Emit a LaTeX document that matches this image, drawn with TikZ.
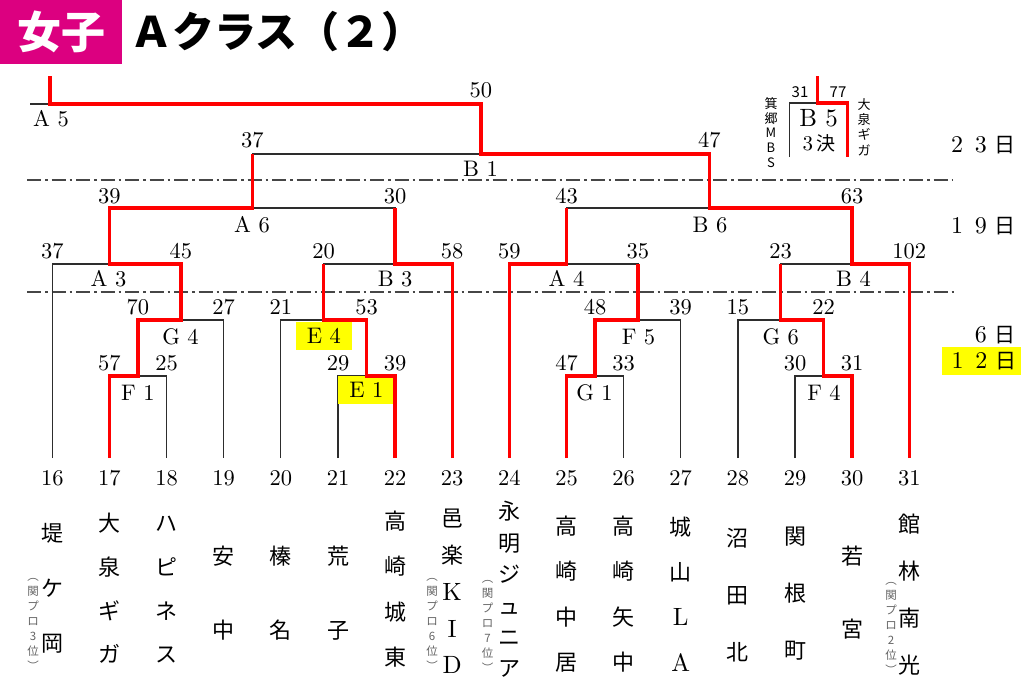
\documentclass[tikz,border=0pt]{standalone}
\usepackage{fontspec}
\setmainfont{lmroman10-regular.otf}
\newfontfamily\jp{Noto Sans CJK JP}
\definecolor{tagpink}{RGB}{220,0,128}
\definecolor{linegray}{RGB}{45,45,45}
\definecolor{dashgray}{RGB}{70,70,70}
\definecolor{notegray}{RGB}{100,100,100}
\definecolor{hiyellow}{RGB}{255,255,0}
\definecolor{winred}{RGB}{255,0,0}
\newcommand\fw[1]{\makebox[24pt]{#1}}
\newcommand\jd{{\jp\fontsize{21}{21}\selectfont 日}}
\newcommand\lt[1]{{\rmfamily\fontsize{25}{25}\selectfont #1}}
\begin{document}
\begin{tikzpicture}[x=1pt,y=-1pt,
  blk/.style={draw=linegray,line width=1.3pt},
  win/.style={draw=winred,line width=3.4pt,line join=miter},
  dashln/.style={draw=dashgray,line width=1.1pt,dash pattern=on 14pt off 4pt on 2.5pt off 4pt},
  num/.style={font=\fontsize{22.5}{22.5}\selectfont,inner sep=0pt,text height=15pt,text depth=0pt},
  hl/.style={fill=hiyellow,minimum width=56pt,minimum height=28pt},
  tname/.style={font=\jp\fontsize{22}{#1}\selectfont,align=center,inner sep=0pt},
  note/.style={text=notegray,font=\jp\fontsize{11.5}{15}\selectfont,align=center,inner sep=0pt},
  small/.style={font=\jp\fontsize{13}{#1}\selectfont,align=center,inner sep=0pt},
  datel/.style={font=\fontsize{24}{24}\selectfont,inner sep=3.2pt,text height=16pt,text depth=1pt},
]
\useasboundingbox (0,0) rectangle (1024,683);

% ---------- title ----------
\node[fill=tagpink,text=white,minimum width=122pt,minimum height=64pt,inner sep=0pt,
      anchor=north west,font=\jp\bfseries\fontsize{44}{44}\selectfont] (tag) at (0,0) {女子};
\node[anchor=west,inner sep=0pt,font=\jp\bfseries\fontsize{42}{42}\selectfont] (title) at (130,32) {Ａクラス（２）};

% ---------- coordinates ----------
\coordinate (b16) at (52.3,458);  \coordinate (b17) at (109.4,458);
\coordinate (b18) at (166.6,458); \coordinate (b19) at (223.7,458);
\coordinate (b20) at (280.8,458); \coordinate (b21) at (338.0,458);
\coordinate (b22) at (395.1,458); \coordinate (b23) at (452.2,458);
\coordinate (b24) at (509.4,458); \coordinate (b25) at (566.5,458);
\coordinate (b26) at (623.6,458); \coordinate (b27) at (680.7,458);
\coordinate (b28) at (737.9,458); \coordinate (b29) at (795.0,458);
\coordinate (b30) at (852.1,458); \coordinate (b31) at (909.3,458);

\coordinate (F1) at (137.95,376); \coordinate (E1) at (366.55,376);
\coordinate (G1) at (595.05,376); \coordinate (F4) at (823.55,376);
\coordinate (G4) at (180.85,320); \coordinate (E4) at (323.7,320);
\coordinate (F5) at (637.9,320);  \coordinate (G6) at (780.7,320);
\coordinate (A3) at (109.4,264);  \coordinate (B3) at (395.1,264);
\coordinate (A4) at (566.5,264);  \coordinate (B4) at (852.1,264);
\coordinate (A6) at (252.25,208); \coordinate (B6) at (709.3,208);
\coordinate (B1) at (480.8,154);
\coordinate (A5) at (480.8,104);
\coordinate (a5in) at (50,104); \coordinate (a5top) at (50,76); \coordinate (a5stub) at (30,104);
\coordinate (B5) at (817.3,103); \coordinate (b5top) at (817.3,76);
\coordinate (b5l) at (789.3,157); \coordinate (b5r) at (847.7,157);

\coordinate (d1w) at (27,180);  \coordinate (d1e) at (953,180);
\coordinate (d2w) at (27,292);  \coordinate (d2e) at (955,292);

% ---------- dash-dot day separators ----------
\draw[dashln] (d1w) -- (d1e);
\draw[dashln] (d2w) -- (d2e);

% ---------- bracket (black) ----------
\draw[blk] (b17) |- (F1) -| (b18);
\draw[blk] (b21) |- (E1) -| (b22);
\draw[blk] (b25) |- (G1) -| (b26);
\draw[blk] (b29) |- (F4) -| (b30);
\draw[blk] (F1) |- (G4) -| (b19);
\draw[blk] (b20) |- (E4) -| (E1);
\draw[blk] (G1) |- (F5) -| (b27);
\draw[blk] (b28) |- (G6) -| (F4);
\draw[blk] (b16) |- (A3) -| (G4);
\draw[blk] (E4) |- (B3) -| (b23);
\draw[blk] (b24) |- (A4) -| (F5);
\draw[blk] (G6) |- (B4) -| (b31);
\draw[blk] (A3) |- (A6) -| (B3);
\draw[blk] (A4) |- (B6) -| (B4);
\draw[blk] (A6) |- (B1) -| (B6);
\draw[blk] (B1) -- (A5) -- (a5stub);
\draw[blk] (b5l) |- (B5);

% ---------- match labels ----------
\node[num] (lF1) at (137.95,393) {F 1};
\node[num,hl] (lE1) at (366.4,390.3) {E 1};
\node[num] (lG1) at (594.5,393) {G 1};
\node[num] (lF4) at (824,393) {F 4};
\node[num] (lG4) at (180.5,337) {G 4};
\node[num,hl] (lE4) at (323.9,336) {E 4};
\node[num] (lF5) at (638.5,337) {F 5};
\node[num] (lG6) at (780.7,337) {G 6};
\node[num] (lA3) at (108.5,279) {A 3};
\node[num] (lB3) at (395.1,279) {B 3};
\node[num] (lA4) at (566.5,279) {A 4};
\node[num] (lB4) at (853.5,279) {B 4};
\node[num] (lA6) at (252,225) {A 6};
\node[num] (lB6) at (710,225) {B 6};
\node[num] (lB1) at (480.5,169) {B 1};
\node[num] (lA5) at (51,119) {A 5};

% ---------- scores ----------
\node[num] (sF1a) at (109.4,363) {57};  \node[num] (sF1b) at (166.6,363) {25};
\node[num] (sE1a) at (338.0,363) {29};  \node[num] (sE1b) at (395.1,363) {39};
\node[num] (sG1a) at (566.5,363) {47};  \node[num] (sG1b) at (623.6,363) {33};
\node[num] (sF4a) at (795.0,363) {30};  \node[num] (sF4b) at (852.1,363) {31};
\node[num] (sG4a) at (137.95,307) {70}; \node[num] (sG4b) at (223.7,307) {27};
\node[num] (sE4a) at (280.8,307) {21};  \node[num] (sE4b) at (366.55,307) {53};
\node[num] (sF5a) at (595.05,307) {48}; \node[num] (sF5b) at (680.7,307) {39};
\node[num] (sG6a) at (737.9,307) {15};  \node[num] (sG6b) at (823.55,307) {22};
\node[num] (sA3a) at (52.3,251) {37};   \node[num] (sA3b) at (180.85,251) {45};
\node[num] (sB3a) at (323.7,251) {20};  \node[num] (sB3b) at (452.2,251) {58};
\node[num] (sA4a) at (509.4,251) {59};  \node[num] (sA4b) at (637.9,251) {35};
\node[num] (sB4a) at (780.7,251) {23};  \node[num] (sB4b) at (909.3,251) {102};
\node[num] (sA6a) at (109.4,196) {39};  \node[num] (sA6b) at (395.1,196) {30};
\node[num] (sB6a) at (566.5,196) {43};  \node[num] (sB6b) at (852.1,196) {63};
\node[num] (sB1a) at (252.25,140) {37}; \node[num] (sB1b) at (709.3,140) {47};
\node[num] (sA5) at (480.8,90) {50};

% ---------- B5 (3rd place) ----------
\node[font=\fontsize{25}{25}\selectfont,inner sep=0pt,text height=17pt,text depth=0pt] (lB5) at (818.5,118) {B 5};
\node[font=\fontsize{21}{21}\selectfont,inner sep=0pt] (lB5s) at (819,143) {3\,{\jp\fontsize{19}{19}\selectfont 決}};
\node[font=\jp\fontsize{15}{15}\selectfont,inner sep=0pt] (sB5a) at (800,92) {31};
\node[font=\jp\fontsize{15}{15}\selectfont,inner sep=0pt] (sB5b) at (838,92) {77};
\node[small=14.6] (tB5a) at (771,132.5) {箕\\郷\\M\\B\\S};
\node[small=15.3] (tB5b) at (864,127) {大\\泉\\ギ\\ガ};

% ---------- dates ----------
\node[datel] (d23) at (981,145) {\fw{2}\fw{3}\fw{\jd}};
\node[datel] (d19) at (981,226) {\fw{1}\fw{9}\fw{\jd}};
\node[datel] (d6) at (992.8,335) {\fw{6}\fw{\jd}};
\node[datel,fill=hiyellow,minimum width=78.4pt,minimum height=28.3pt] (d12) at (981.5,360.8) {\fw{1}\fw{2}\fw{\jd}};

% ---------- team numbers ----------
\node[num] (n16) at (52.3,478) {16};  \node[num] (n17) at (109.4,478) {17};
\node[num] (n18) at (166.6,478) {18}; \node[num] (n19) at (223.7,478) {19};
\node[num] (n20) at (280.8,478) {20}; \node[num] (n21) at (338.0,478) {21};
\node[num] (n22) at (395.1,478) {22}; \node[num] (n23) at (452.2,478) {23};
\node[num] (n24) at (509.4,478) {24}; \node[num] (n25) at (566.5,478) {25};
\node[num] (n26) at (623.6,478) {26}; \node[num] (n27) at (680.7,478) {27};
\node[num] (n28) at (737.9,478) {28}; \node[num] (n29) at (795.0,478) {29};
\node[num] (n30) at (852.1,478) {30}; \node[num] (n31) at (909.3,478) {31};

% ---------- team names ----------
\node[tname=55] (m16) at (52.3,588) {堤\\ケ\\岡};
\node[tname=43.7] (m17) at (109.4,588.5) {大\\泉\\ギ\\ガ};
\node[tname=43.7] (m18) at (166.6,590) {ハ\\ピ\\ネ\\ス};
\node[tname=74] (m19) at (223.7,593) {安\\中};
\node[tname=74] (m20) at (280.8,593) {榛\\名};
\node[tname=74] (m21) at (338.0,593) {荒\\子};
\node[tname=45.3] (m22) at (395.1,589) {高\\崎\\城\\東};
\node[tname=36.75] (m23) at (452.2,591.5) {邑\\楽\\\lt{K}\\\lt{I}\\\lt{D}};
\node[tname=31.4] (m24) at (509.4,589.5) {永\\明\\ジ\\ュ\\ニ\\ア};
\node[tname=45.3] (m25) at (566.5,594) {高\\崎\\中\\居};
\node[tname=45.3] (m26) at (623.6,594) {高\\崎\\矢\\中};
\node[tname=45.3] (m27) at (680.7,594) {城\\山\\\lt{L}\\\lt{A}};
\node[tname=57] (m28) at (737.9,594.7) {沼\\田\\北};
\node[tname=57] (m29) at (795.0,594) {関\\根\\町};
\node[tname=73.5] (m30) at (852.1,592.7) {若\\宮};
\node[tname=47] (m31) at (909.3,595) {館\\林\\南\\光};

% ---------- notes ----------
\node[note] (k16) at (33,624) {︵\\関\\プ\\ロ\\3\\位\\︶};
\node[note] (k23) at (432,624) {︵\\関\\プ\\ロ\\6\\位\\︶};
\node[note] (k24) at (487.5,626) {︵\\関\\プ\\ロ\\7\\位\\︶};
\node[note] (k31) at (891,628) {︵\\関\\プ\\ロ\\2\\位\\︶};

% ---------- winners (red) ----------
\draw[win] (b17) |- (F1) |- (G4) |- (A3) |- (A6) -- (A6 |- B1);
\draw[win] (b22) |- (E1) |- (E4) -- (E4 |- B3);
\draw[win] (b23) |- (B3) -- (B3 |- A6);
\draw[win] (b24) |- (A4) -- (A4 |- B6);
\draw[win] (b25) |- (G1) |- (F5) -- (F5 |- A4);
\draw[win] (b30) |- (F4) |- (G6) -- (G6 |- B4);
\draw[win] (b31) |- (B4) |- (B6) |- (B1) -- (A5) -- (a5in) -- (a5top);
\draw[win] (b5top) -- (B5) -| (b5r);
\end{tikzpicture}
\end{document}
